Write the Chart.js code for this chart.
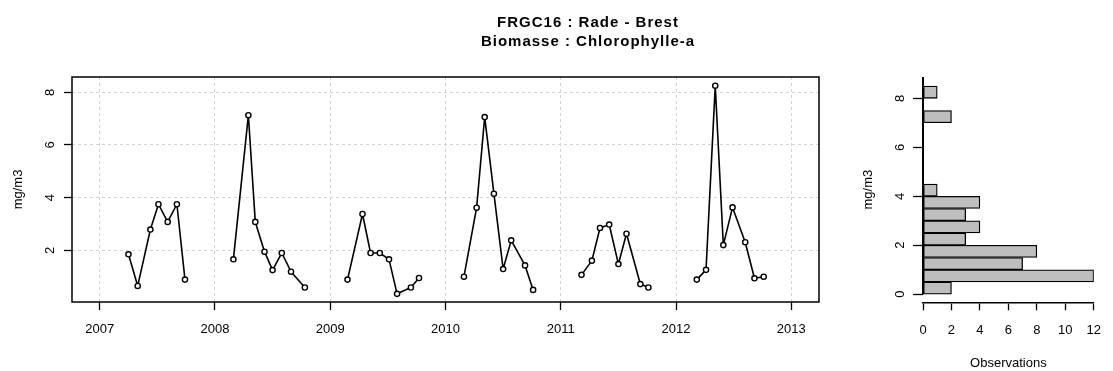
<!DOCTYPE html>
<html>
<head>
<meta charset="utf-8">
<script src="https://cdn.jsdelivr.net/npm/chart.js@4.4.1/dist/chart.umd.min.js"></script>
<style>
  body { margin: 0; background: #fff; }
  canvas { position: absolute; top: 0; }
  #graficoSerie { left: 0; }
  #graficoHisto { left: 860px; }
</style>
</head>
<body>
<canvas id="graficoSerie" width="860" height="371"></canvas>
<canvas id="graficoHisto" width="253" height="371"></canvas>
<script>
// dates de prelevement (annees decimales) et chlorophylle-a (mg/m3)
const datesPrelevement = [
  2007.25, 2007.33, 2007.44, 2007.51, 2007.59, 2007.67, 2007.74,
  2008.16, 2008.29, 2008.35, 2008.43, 2008.50, 2008.58, 2008.66, 2008.78,
  2009.15, 2009.28, 2009.35, 2009.43, 2009.51, 2009.58, 2009.70, 2009.77,
  2010.16, 2010.27, 2010.34, 2010.42, 2010.50, 2010.57, 2010.69, 2010.76,
  2011.18, 2011.27, 2011.34, 2011.42, 2011.50, 2011.57, 2011.69, 2011.76,
  2012.18, 2012.26, 2012.34, 2012.41, 2012.49, 2012.60, 2012.68, 2012.76
]
const chlorophylle = [
  1.85, 0.65, 2.79, 3.75, 3.08, 3.75, 0.89,
  1.66, 7.13, 3.08, 1.95, 1.25, 1.90, 1.19, 0.59,
  0.89, 3.38, 1.90, 1.90, 1.66, 0.35, 0.59, 0.95,
  1.00, 3.62, 7.06, 4.15, 1.29, 2.38, 1.43, 0.50,
  1.07, 1.61, 2.85, 2.98, 1.48, 2.63, 0.72, 0.59,
  0.89, 1.26, 8.25, 2.20, 3.63, 2.31, 0.94, 1.00
]

// histogramme : centre des classes et nombre d'observations
const classesHisto = [0.25, 0.75, 1.25, 1.75, 2.25, 2.75, 3.25, 3.75, 4.25, 4.75, 5.25, 5.75, 6.25, 6.75, 7.25, 7.75, 8.25]
const effectifs = [2, 12, 7, 8, 3, 4, 3, 4, 1, 0, 0, 0, 0, 0, 2, 0, 1]

// graduations
const anneesTicks = [2007, 2008, 2009, 2010, 2011, 2012, 2013]
const serieYTicks = [2, 4, 6, 8]
const histoYTicks = [0, 2, 4, 6, 8]
const histoXTicks = [0, 2, 4, 6, 8, 10, 12]

const titre1 = 'FRGC16 : Rade - Brest'
const titre2 = 'Biomasse : Chlorophylle-a'
const uniteY = 'mg/m3'
const titreX = 'Observations'

const police = '"Liberation Sans", Arial, Helvetica, sans-serif'
Chart.defaults.font.family = police
Chart.defaults.color = '#000'

// une ligne par campagne annuelle : on coupe entre deux annees
const pontos = []
datesPrelevement.forEach((d, i) => {
  if (i > 0 && Math.floor(d) != Math.floor(datesPrelevement[i - 1])) {
    pontos.push({x: (d + datesPrelevement[i - 1]) / 2, y: null})
  }
  pontos.push({x: d, y: chlorophylle[i]})
})

function ticksFixes(lista){
  return scale => { scale.ticks = lista.map(v => ({value: v})) }
}

function texteVertical(ctx, txt, x, y){
  ctx.save()
  ctx.translate(x, y)
  ctx.rotate(-Math.PI / 2)
  ctx.textAlign = 'center'
  ctx.textBaseline = 'middle'
  ctx.fillText(txt, 0, 0)
  ctx.restore()
}

const decorSerie = {
  id: 'decorSerie',
  afterDatasetsDraw(chart){
    const {ctx, chartArea} = chart
    ctx.save()
    ctx.strokeStyle = '#000'
    ctx.lineWidth = 1.5
    ctx.strokeRect(chartArea.left, chartArea.top, chartArea.right - chartArea.left, chartArea.bottom - chartArea.top)
    ctx.restore()
  },
  afterDraw(chart){
    const {ctx, chartArea} = chart
    const y = chart.scales.y
    ctx.save()
    ctx.fillStyle = '#000'
    ctx.font = '13px ' + police
    serieYTicks.forEach(v => texteVertical(ctx, String(v), 50.5, y.getPixelForValue(v)))
    texteVertical(ctx, uniteY, 18.5, (chartArea.top + chartArea.bottom) / 2)
    ctx.font = 'bold 15px ' + police
    ctx.letterSpacing = '1px'
    ctx.textAlign = 'center'
    ctx.textBaseline = 'alphabetic'
    ctx.fillText(titre1, 588, 26.5)
    ctx.fillText(titre2, 588, 45.5)
    ctx.restore()
  }
}

const decorHisto = {
  id: 'decorHisto',
  afterDatasetsDraw(chart){
    const {ctx, chartArea} = chart
    const y = chart.scales.y
    ctx.save()
    ctx.strokeStyle = '#000'
    ctx.lineWidth = 2
    ctx.beginPath()
    ctx.moveTo(chartArea.left, y.getPixelForValue(0))
    ctx.lineTo(chartArea.left, chartArea.top)
    ctx.stroke()
    ctx.restore()
  },
  afterDraw(chart){
    const {ctx, chartArea} = chart
    const x = chart.scales.x
    const y = chart.scales.y
    ctx.save()
    ctx.fillStyle = '#000'
    ctx.font = '13px ' + police
    histoYTicks.forEach(v => texteVertical(ctx, String(v), 40, y.getPixelForValue(v)))
    texteVertical(ctx, uniteY, 8.5, (chartArea.top + chartArea.bottom) / 2)
    ctx.textAlign = 'center'
    ctx.textBaseline = 'middle'
    ctx.fillText(titreX, (x.getPixelForValue(0) + x.getPixelForValue(12)) / 2, 363.5)
    ctx.restore()
  }
}

// serie temporelle
const graficoSerie = new Chart(document.getElementById('graficoSerie'), {
  type: 'line',
  data: {
    datasets: [{
      data: pontos,
      borderColor: '#000',
      borderWidth: 1.6,
      borderJoinStyle: 'round',
      pointRadius: 2.6,
      pointBorderWidth: 1.4,
      pointBorderColor: '#000',
      pointBackgroundColor: '#fff',
      spanGaps: false,
      tension: 0
    }]
  },
  options: {
    responsive: false,
    animation: false,
    events: [],
    layout: {padding: {left: 0, top: 77, right: 41, bottom: 0}},
    plugins: {legend: {display: false}, tooltip: {enabled: false}},
    scales: {
      x: {
        type: 'linear', bounds: 'data', min: 2006.76, max: 2013.24,
        afterBuildTicks: ticksFixes(anneesTicks),
        afterFit: s => { s.height = 69 },
        ticks: {callback: v => String(v), font: {size: 13}, padding: 12, maxRotation: 0, autoSkip: false},
        grid: {color: '#d3d3d3', lineWidth: 1, tickColor: '#000', tickWidth: 1.3, tickLength: 8, tickBorderDash: []},
        border: {display: false, dash: [3, 3]}
      },
      y: {
        type: 'linear', bounds: 'data', min: 0.04, max: 8.58,
        afterBuildTicks: ticksFixes(serieYTicks),
        afterFit: s => { s.width = 72 },
        ticks: {display: false},
        grid: {color: '#d3d3d3', lineWidth: 1, tickColor: '#000', tickWidth: 1.3, tickLength: 8, tickBorderDash: []},
        border: {display: false, dash: [3, 3]}
      }
    }
  },
  plugins: [decorSerie]
})

// histogramme horizontal
const graficoHisto = new Chart(document.getElementById('graficoHisto'), {
  type: 'bar',
  data: {
    datasets: [{
      data: effectifs.map((n, i) => ({x: n, y: classesHisto[i]})),
      backgroundColor: '#bebebe',
      borderColor: '#000',
      borderWidth: 1.3,
      borderSkipped: false,
      barPercentage: 1,
      categoryPercentage: 1
    }]
  },
  options: {
    indexAxis: 'y',
    responsive: false,
    animation: false,
    events: [],
    layout: {padding: {left: 0, top: 77, right: 11.5, bottom: 0}},
    plugins: {legend: {display: false}, tooltip: {enabled: false}},
    scales: {
      x: {
        type: 'linear', bounds: 'data', min: 0, max: 12,
        afterBuildTicks: ticksFixes(histoXTicks),
        afterFit: s => { s.height = 68.7 },
        ticks: {callback: v => String(v), font: {size: 13}, padding: 12, maxRotation: 0, autoSkip: false},
        grid: {drawOnChartArea: false, tickColor: '#000', tickWidth: 1.3, tickLength: 8},
        border: {display: true, color: '#000', width: 1.5}
      },
      y: {
        type: 'linear', bounds: 'data', min: -0.33, max: 8.87, offset: false,
        afterBuildTicks: ticksFixes(histoYTicks),
        afterFit: s => { s.width = 63 },
        ticks: {display: false},
        grid: {drawOnChartArea: false, offset: false, tickColor: '#000', tickWidth: 1.3, tickLength: 10},
        border: {display: false}
      }
    }
  },
  plugins: [decorHisto]
})
</script>
</body>
</html>
